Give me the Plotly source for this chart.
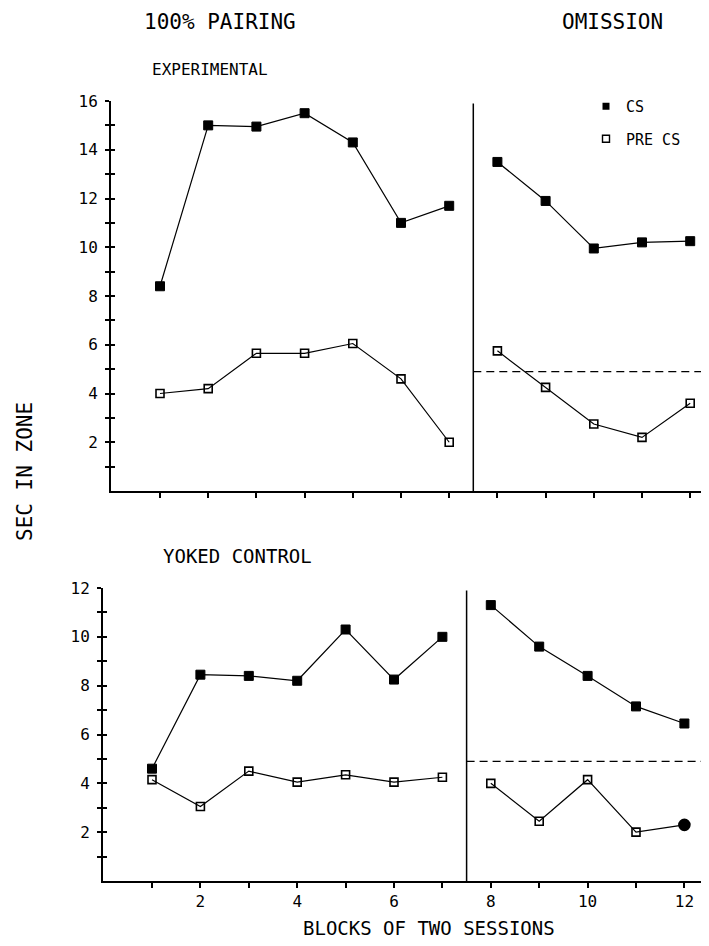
import plotly.graph_objects as go

# ---- data ----
blocks_pair = [1, 2, 3, 4, 5, 6, 7]
blocks_omit = [8, 9, 10, 11, 12]

exp_cs_pair = [8.4, 15.0, 14.95, 15.5, 14.3, 11.0, 11.7]
exp_pre_pair = [4.0, 4.2, 5.65, 5.65, 6.05, 4.6, 2.0]
exp_cs_omit = [13.5, 11.9, 9.95, 10.2, 10.25]
exp_pre_omit = [5.75, 4.25, 2.75, 2.2, 3.6]

yok_cs_pair = [4.6, 8.45, 8.4, 8.2, 10.3, 8.25, 10.0]
yok_pre_pair = [4.15, 3.05, 4.5, 4.05, 4.35, 4.05, 4.25]
yok_cs_omit = [11.3, 9.6, 8.4, 7.15, 6.45]
yok_pre_omit = [4.0, 2.45, 4.15, 2.0, 2.3]

baseline_exp = 4.9
baseline_yok = 4.9
phase_split = 7.5

xtick_vals = [2, 4, 6, 8, 10, 12]
ytick_top = list(range(1, 17))
ytick_bot = list(range(1, 13))

FONT = "DejaVu Sans Mono"
W, H = 709, 946
OFF = 8  # page body margin offset

fig = go.Figure()

cs_marker = dict(symbol="square", size=9, color="black", opacity=1,
                 line=dict(color="black", width=1))
pre_marker = dict(symbol="square-open", size=8, color="black", opacity=1,
                  line=dict(width=1.6, color="black"))
line_style = dict(color="black", width=1.2)

def add_series(x, y, xa, ya, marker):
    fig.add_trace(go.Scatter(x=x, y=y, mode="lines+markers", marker=marker,
                             line=line_style, xaxis=xa, yaxis=ya, showlegend=False,
                             hoverinfo="skip"))

# top panel (experimental); PRE CS drawn on the overlay axis (same scale)
add_series(blocks_pair, exp_cs_pair, "x", "y", cs_marker)
add_series(blocks_pair, exp_pre_pair, "x", "y3", pre_marker)
add_series(blocks_omit, exp_cs_omit, "x", "y", cs_marker)
add_series(blocks_omit, exp_pre_omit, "x", "y3", pre_marker)

# bottom panel (yoked control)
add_series(blocks_pair, yok_cs_pair, "x2", "y2", cs_marker)
add_series(blocks_pair, yok_pre_pair, "x2", "y4", pre_marker)
add_series(blocks_omit, yok_cs_omit, "x2", "y2", cs_marker)
last_pre = dict(symbol=["square-open"] * 4 + ["circle"], size=[8] * 4 + [11],
                color="black", opacity=1, line=dict(width=1.6, color="black"))
add_series(blocks_omit, yok_pre_omit, "x2", "y4", last_pre)

# legend entries
fig.add_trace(go.Scatter(x=[None], y=[None], mode="markers", name="CS",
                         marker=dict(symbol="square", size=7, color="black"),
                         legendgroup="a"))
fig.add_trace(go.Scatter(x=[None], y=[None], mode="markers", name="PRE CS",
                         marker=dict(symbol="square-open", size=7, color="black",
                                     line=dict(width=1.4, color="black")),
                         legendgroup="b"))

def px_x(p):
    return (p - OFF) / W

def px_y(p):
    return 1 - (p - OFF) / H

# geometry in page pixels
top_x0, top_unit = 111.8, 48.2
top_rng = [(111 - top_x0) / top_unit, (W + OFF - top_x0) / top_unit]
bot_x0, bot_unit = 103.6, 48.4
bot_rng = [(103 - bot_x0) / bot_unit, (W + OFF - bot_x0) / bot_unit]

axis_common = dict(showgrid=False, zeroline=False, showline=True, linecolor="black",
                   linewidth=2, tickcolor="black", tickwidth=1.5, automargin=False,
                   tickfont=dict(family=FONT, size=16, color="black"))
overlay_common = dict(showticklabels=False, ticks="inside", ticklen=4, automargin=False,
                      showgrid=False, zeroline=False, showline=False,
                      tickcolor="black", tickwidth=1.5)

ytext_top = [str(v) if v % 2 == 0 else "" for v in ytick_top]
ytext_bot = [str(v) if v % 2 == 0 else "" for v in ytick_bot]

fig.update_layout(
    width=W, height=H, margin=dict(l=0, r=0, t=0, b=0, pad=0),
    paper_bgcolor="white", plot_bgcolor="rgba(0,0,0,0)",
    font=dict(family=FONT, color="black"),
    xaxis=dict(domain=[px_x(111), 1], range=top_rng, anchor="y",
               tickmode="array", tickvals=list(range(1, 13)), showticklabels=False,
               ticks="outside", ticklen=5, **axis_common),
    yaxis=dict(domain=[px_y(491), px_y(101)], range=[0, 16], anchor="x",
               tickmode="array", tickvals=ytick_top, ticktext=ytext_top,
               ticks="outside", ticklen=4, ticklabelstandoff=4, **axis_common),
    yaxis3=dict(domain=[px_y(491), px_y(101)], range=[0, 16], anchor="x",
                overlaying="y", tickmode="array", tickvals=ytick_top, **overlay_common),
    xaxis2=dict(domain=[px_x(103), 1], range=bot_rng, anchor="y2",
                tickmode="array", tickvals=list(range(1, 13)),
                ticktext=[str(v) if v in xtick_vals else "" for v in range(1, 13)],
                ticks="outside", ticklen=5, **axis_common),
    yaxis2=dict(domain=[px_y(881), px_y(588)], range=[0, 12], anchor="x2",
                tickmode="array", tickvals=ytick_bot, ticktext=ytext_bot,
                ticks="outside", ticklen=4, ticklabelstandoff=4, **axis_common),
    yaxis4=dict(domain=[px_y(881), px_y(588)], range=[0, 12], anchor="x2",
                overlaying="y2", tickmode="array", tickvals=ytick_bot, **overlay_common),
    legend=dict(x=px_x(586), y=px_y(90), xanchor="left", yanchor="top",
                font=dict(family=FONT, size=15, color="black"),
                bgcolor="rgba(0,0,0,0)", tracegroupgap=10, itemwidth=30),
)

shapes = []
shapes.append(dict(type="line", xref="x", yref="y", x0=phase_split, x1=phase_split,
                   y0=0, y1=15.9, line=dict(color="black", width=1.5)))
shapes.append(dict(type="line", xref="x2", yref="y2", x0=phase_split, x1=phase_split,
                   y0=0, y1=11.9, line=dict(color="black", width=1.5)))
shapes.append(dict(type="line", xref="x", yref="y", x0=phase_split, x1=top_rng[1],
                   y0=baseline_exp, y1=baseline_exp,
                   line=dict(color="black", width=1.2, dash="8px,5px")))
shapes.append(dict(type="line", xref="x2", yref="y2", x0=phase_split, x1=bot_rng[1],
                   y0=baseline_yok, y1=baseline_yok,
                   line=dict(color="black", width=1.2, dash="8px,5px")))
fig.update_layout(shapes=shapes)

def ann(text, x, y, size, angle=0):
    fig.add_annotation(text=text, x=px_x(x), y=px_y(y), xref="paper", yref="paper",
                       showarrow=False, textangle=angle, xanchor="center", yanchor="middle",
                       font=dict(family=FONT, size=size, color="black"))

ann("100% PAIRING", 220, 22, 21)
ann("OMISSION", 612, 22, 21)
ann("EXPERIMENTAL", 210, 70, 16)
ann("YOKED CONTROL", 237, 556, 19)
ann("SEC IN ZONE", 25, 472, 21, angle=-90)
ann("BLOCKS OF TWO SESSIONS", 429, 928, 19)

fig.write_html("out.html")
